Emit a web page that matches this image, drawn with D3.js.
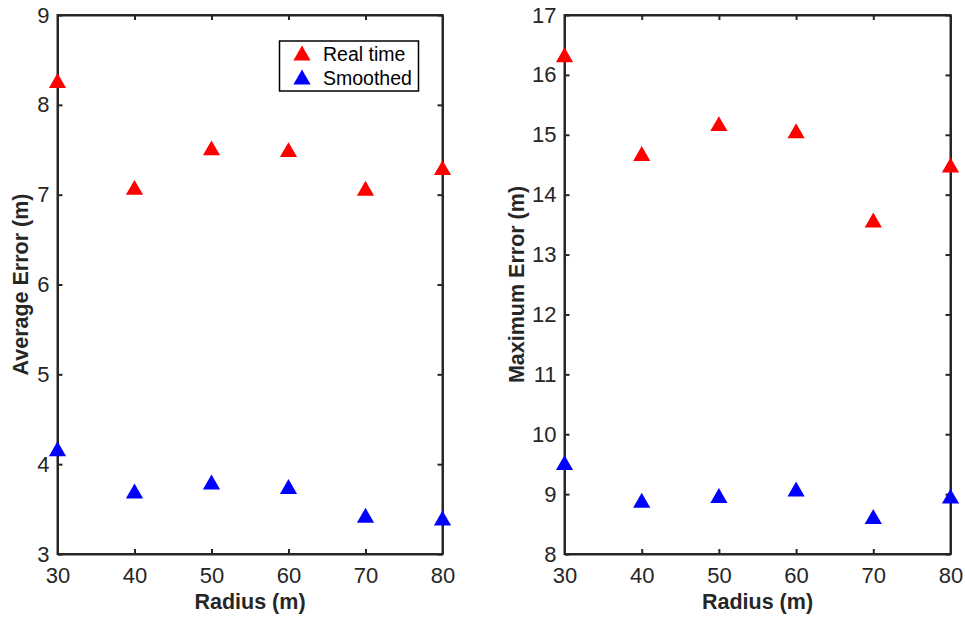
<!DOCTYPE html>
<html>
<head>
<meta charset="utf-8">
<script src="https://cdn.jsdelivr.net/npm/d3@7"></script>
<style>
  html, body { margin: 0; padding: 0; background: #fff; }
  svg { display: block; }
  text { font-family: "Liberation Sans", Arial, Helvetica, sans-serif; }
</style>
</head>
<body>
<svg id="chart" width="965" height="617"></svg>
<script>
// Radius values (m)
const radius = [30, 40, 50, 60, 70, 80];

// Average error (m)
const avgRealTime = [8.26, 7.07, 7.51, 7.49, 7.06, 7.29];
const avgSmoothed = [4.16, 3.69, 3.79, 3.74, 3.42, 3.39];

// Maximum error (m)
const maxRealTime = [16.32, 14.67, 15.17, 15.05, 13.56, 14.48];
const maxSmoothed = [9.51, 8.88, 8.96, 9.07, 8.61, 8.95];

const xTicks = [30, 40, 50, 60, 70, 80];
const avgTicks = [3, 4, 5, 6, 7, 8, 9];
const maxTicks = [8, 9, 10, 11, 12, 13, 14, 15, 16, 17];

const seriesNames = ["Real time", "Smoothed"];
const seriesColors = ["#ff0000", "#0000ff"];

const svg = d3.select("#chart");
const axisColor = "#262626";
const triangle = d3.symbol().type(d3.symbolTriangle).size(128);
const fmt = d3.format("d");

function panel(opts) {
  const { left, right, top, bottom, yDomain, yTicks, yLabel, yLabelX, real, smooth, legend } = opts;
  const x = d3.scaleLinear().domain([30, 80]).range([left, right]);
  const y = d3.scaleLinear().domain(yDomain).range([bottom, top]);
  const g = svg.append("g");

  const tickLen = 5;

  // bottom axis with labels
  g.append("g").attr("transform", `translate(0,${bottom})`)
    .call(d3.axisBottom(x).tickValues(xTicks).tickFormat(fmt).tickSizeInner(-tickLen).tickSizeOuter(0).tickPadding(13));
  // top axis (ticks only)
  g.append("g").attr("transform", `translate(0,${top})`)
    .call(d3.axisTop(x).tickValues(xTicks).tickSizeInner(-tickLen).tickSizeOuter(0).tickFormat(""));
  // left axis with labels
  g.append("g").attr("transform", `translate(${left},0)`)
    .call(d3.axisLeft(y).tickValues(yTicks).tickFormat(fmt).tickSizeInner(-tickLen).tickSizeOuter(0).tickPadding(8));
  // right axis (ticks only)
  g.append("g").attr("transform", `translate(${right},0)`)
    .call(d3.axisRight(y).tickValues(yTicks).tickSizeInner(-tickLen).tickSizeOuter(0).tickFormat(""));

  g.selectAll(".domain").attr("stroke", axisColor).attr("stroke-width", 2);
  g.selectAll(".tick line").attr("stroke", axisColor).attr("stroke-width", 2);
  g.selectAll(".tick text")
    .attr("fill", axisColor)
    .attr("font-size", null)
    .attr("font-family", null)
    .style("font-size", "22px");

  // frame
  g.append("rect")
    .attr("x", left).attr("y", top)
    .attr("width", right - left).attr("height", bottom - top)
    .attr("fill", "none").attr("stroke", axisColor).attr("stroke-width", 2);

  // axis titles
  g.append("text")
    .attr("x", (left + right) / 2).attr("y", 609)
    .attr("text-anchor", "middle")
    .attr("fill", axisColor)
    .style("font-size", "21.5px").style("font-weight", "bold")
    .text("Radius (m)");

  g.append("text")
    .attr("transform", `translate(${yLabelX},${(top + bottom) / 2}) rotate(-90)`)
    .attr("text-anchor", "middle")
    .attr("fill", axisColor)
    .style("font-size", "21.5px").style("font-weight", "bold")
    .text(yLabel);

  // markers
  [real, smooth].forEach((vals, i) => {
    g.append("g").selectAll("path")
      .data(vals.map((v, j) => [radius[j], v]))
      .join("path")
      .attr("d", triangle)
      .attr("transform", d => `translate(${x(d[0])},${y(d[1]) + 1.5})`)
      .attr("fill", seriesColors[i]);
  });

  if (legend) {
    const lg = g.append("g");
    lg.append("rect")
      .attr("x", 279.5).attr("y", 41)
      .attr("width", 139).attr("height", 50)
      .attr("fill", "#fff").attr("stroke", "#000").attr("stroke-width", 1.5);
    seriesNames.forEach((name, i) => {
      const cy = 54 + i * 24;
      lg.append("path").attr("d", triangle)
        .attr("transform", `translate(302,${cy + 1.5})`)
        .attr("fill", seriesColors[i]);
      lg.append("text")
        .attr("x", 323).attr("y", cy + 7)
        .attr("fill", "#000")
        .style("font-size", "19.5px")
        .text(name);
    });
  }
}

panel({
  left: 57.5, right: 442.5, top: 15, bottom: 554,
  yDomain: [3, 9], yTicks: avgTicks, yLabel: "Average Error (m)", yLabelX: 28,
  real: avgRealTime, smooth: avgSmoothed, legend: true
});

panel({
  left: 564.5, right: 950.5, top: 15, bottom: 554,
  yDomain: [8, 17], yTicks: maxTicks, yLabel: "Maximum Error (m)", yLabelX: 524,
  real: maxRealTime, smooth: maxSmoothed, legend: false
});
</script>
</body>
</html>
